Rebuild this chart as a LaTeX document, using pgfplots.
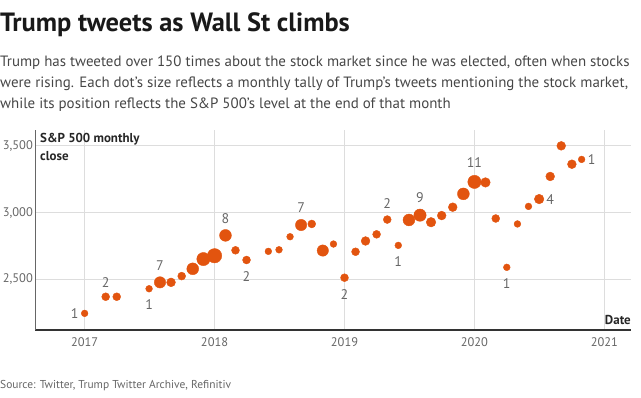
\documentclass[border=0pt]{standalone}
\usepackage{pgfplots}
\pgfplotsset{compat=1.18}
\usepackage{pgfplotstable}
\usepackage{fontspec}
\setmainfont{PT Sans}
\definecolor{dotc}{RGB}{226,84,15}
\definecolor{gridc}{RGB}{221,221,221}
\definecolor{lblc}{RGB}{102,102,102}
\definecolor{subc}{RGB}{70,70,70}
\pgfplotstableread{
x y n
2017.000 2242 1
2017.162 2367 2
2017.247 2367 2
2017.496 2427 1
2017.580 2475 7
2017.665 2475 3
2017.747 2522 2
2017.832 2577 8
2017.914 2650 11
2018.000 2675 14
2018.084 2828 8
2018.161 2716 2
2018.246 2643 2
2018.414 2708 1
2018.496 2720 1
2018.581 2818 1
2018.666 2906 7
2018.748 2914 2
2018.833 2714 7
2018.915 2763 1
2019.000 2510 2
2019.085 2705 2
2019.162 2786 3
2019.247 2836 2
2019.329 2947 2
2019.414 2753 1
2019.496 2944 8
2019.581 2980 9
2019.666 2927 4
2019.748 2977 3
2019.833 3040 3
2019.915 3140 8
2020.000 3230 11
2020.085 3226 4
2020.164 2955 2
2020.249 2588 1
2020.331 2914 1
2020.416 3046 1
2020.498 3101 4
2020.583 3271 3
2020.668 3501 3
2020.750 3363 3
2020.825 3399 1
}\tweets
\begin{document}
\begin{tikzpicture}
\useasboundingbox (0bp,0bp) rectangle (641bp,-398bp);
\node[anchor=base west, inner sep=0, text=black!90] at (0bp,-31bp) {\fontsize{26.5}{30}\selectfont\bfseries Trump tweets as Wall St climbs};
\node[anchor=base west, inner sep=0, text=subc] at (0bp,-66.5bp) {\fontsize{15}{20}\selectfont Trump has tweeted over 150 times about the stock market since he was elected, often when stocks};
\node[anchor=base west, inner sep=0, text=subc] at (0bp,-87.5bp) {\fontsize{15}{20}\selectfont were rising. Each dot's size reflects a monthly tally of Trump's tweets mentioning the stock market,};
\node[anchor=base west, inner sep=0, text=subc] at (0bp,-108.5bp) {\fontsize{15}{20}\selectfont while its position reflects the S\&P 500's level at the end of that month};
\node[anchor=base west, inner sep=0, text=lblc] at (0bp,-388bp) {\fontsize{11.5}{14}\selectfont Source: Twitter, Trump Twitter Archive, Refinitiv};
\begin{axis}[
  at={(35bp,-330bp)}, anchor=south west,
  scale only axis, width=596bp, height=200bp,
  xmin=2016.618, xmax=2021.205, ymin=2117, ymax=3620,
  xtick={2017,2018,2019,2020,2021},
  ytick={2500,3000,3500},
  major tick length=0pt,
  grid=major,
  major grid style={gridc, line width=1bp},
  axis lines*=left,
  axis line style={-},
  x axis line style={line width=1.3bp, black!80},
  y axis line style={line width=0.9bp, black!60},
  /pgf/number format/assume math mode=true,
  xticklabel style={text=lblc, font=\fontsize{12.5}{15}\selectfont, /pgf/number format/1000 sep={}, yshift=-4bp},
  yticklabel style={text=lblc, font=\fontsize{12.5}{15}\selectfont, /pgf/number format/1000 sep={,}, inner xsep=2bp},
  clip=false,
]
\addplot[scatter, only marks, mark=*,
  point meta=\thisrow{n},
  visualization depends on={2+1.4*sqrt(\thisrow{n}) \as \rr},
  scatter/use mapped color={draw=dotc, fill=dotc},
  scatter/@pre marker code/.append style={/tikz/mark size=\rr}] table[x=x, y=y] {\tweets};
\tikzset{lbl/.style={text=lblc, font=\fontsize{14}{16}\selectfont, inner sep=0}}
\node[lbl, xshift=-10bp] at (axis cs:2017.000,2242) {1};
\node[lbl, yshift=14bp] at (axis cs:2017.162,2367) {2};
\node[lbl, yshift=-16bp] at (axis cs:2017.496,2427) {1};
\node[lbl, yshift=17bp] at (axis cs:2017.580,2475) {7};
\node[lbl, yshift=17bp] at (axis cs:2018.084,2828) {8};
\node[lbl, yshift=-17bp] at (axis cs:2018.246,2643) {2};
\node[lbl, yshift=17bp] at (axis cs:2018.666,2906) {7};
\node[lbl, yshift=-17bp] at (axis cs:2019.000,2510) {2};
\node[lbl, yshift=16bp] at (axis cs:2019.329,2947) {2};
\node[lbl, yshift=-16bp] at (axis cs:2019.414,2753) {1};
\node[lbl, yshift=18bp] at (axis cs:2019.581,2980) {9};
\node[lbl, yshift=19bp] at (axis cs:2020.000,3230) {11};
\node[lbl, yshift=-16bp] at (axis cs:2020.249,2588) {1};
\node[lbl, xshift=11bp] at (axis cs:2020.498,3101) {4};
\node[lbl, xshift=10bp] at (axis cs:2020.825,3399) {1};
\node[anchor=north west, inner sep=0, align=left, font=\fontsize{13}{18.5}\selectfont\bfseries, text=black!85] at ([xshift=5bp,yshift=-3bp]rel axis cs:0,1) {S\&P 500 monthly\\close};
\node[anchor=south east, inner sep=0, font=\fontsize{13}{16}\selectfont\bfseries, text=black!85] at ([yshift=5bp]rel axis cs:1,0) {Date};
\end{axis}
\end{tikzpicture}
\end{document}
